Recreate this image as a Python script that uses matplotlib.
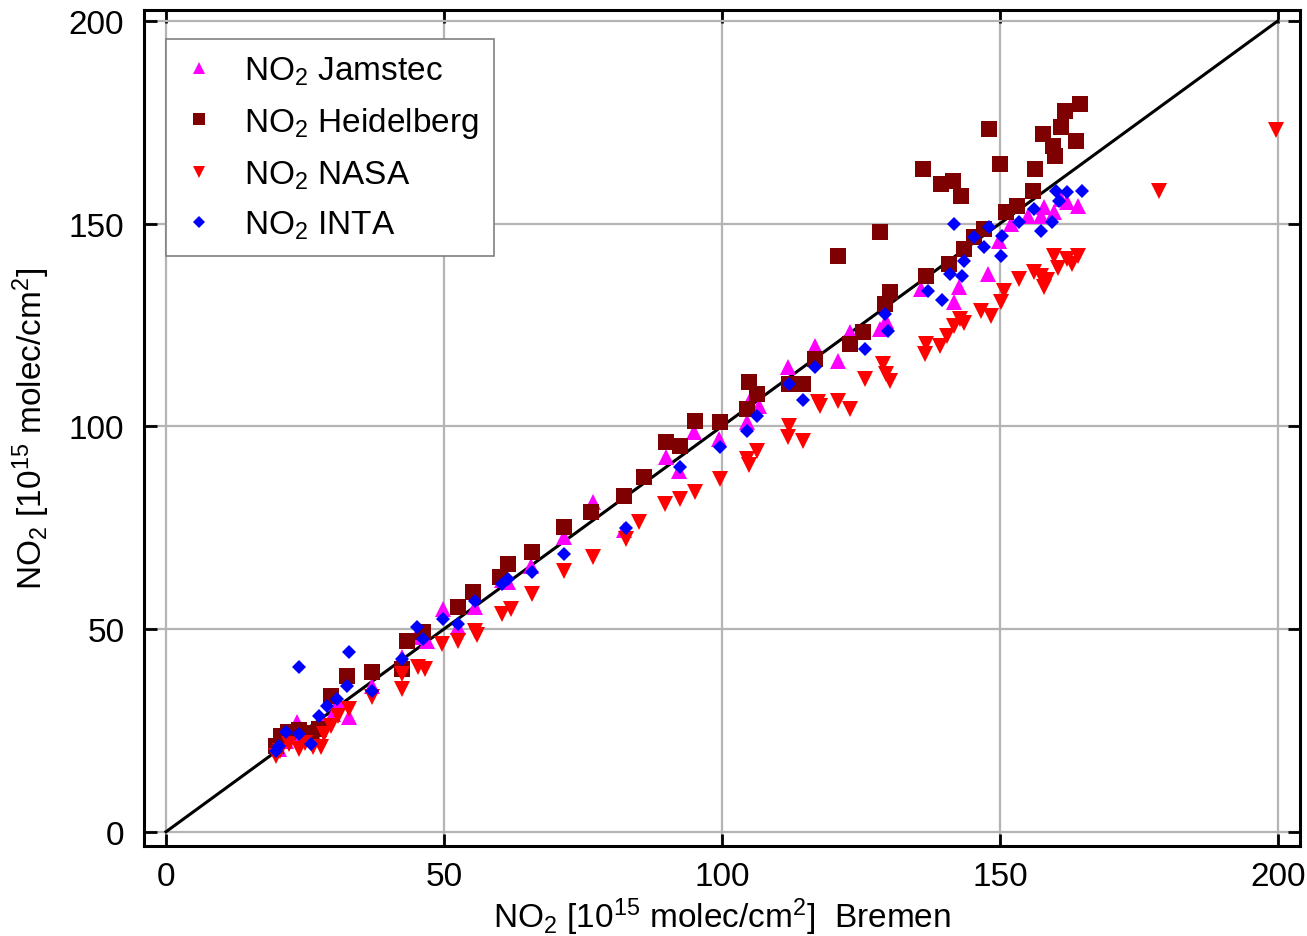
import numpy as np
import matplotlib
matplotlib.use("Agg")
import matplotlib.pyplot as plt

# NO2 columns, Bremen (x) vs other groups (y)
jam_x = [20.3, 21.6, 23.0, 23.6, 25.0, 26.5, 28.0, 30.0, 31.0, 33.0, 37.0, 42.4, 45.0, 47.0,
         49.8, 52.5, 55.6, 60.5, 61.6, 65.6, 71.6, 76.8, 82.4, 90.0, 92.2, 94.9, 99.5, 104.5,
         104.9, 106.7, 111.8, 116.8, 120.8, 123.0, 128.4, 129.5, 135.9, 141.7, 142.6, 147.8,
         149.8, 152.0, 155.0, 157.4, 158.0, 159.8, 161.0, 162.0, 164.0]
jam_y = [20.5, 22.5, 24.0, 27.1, 23.0, 24.5, 27.0, 29.0, 32.0, 28.4, 36.0, 43.0, 48.0, 47.0,
         55.0, 50.6, 55.5, 62.0, 61.7, 65.6, 72.7, 81.4, 74.5, 92.5, 89.0, 98.6, 96.9, 101.1,
         106.0, 105.0, 114.7, 119.8, 116.2, 123.3, 124.0, 126.0, 133.9, 130.7, 134.4, 137.6,
         145.7, 150.0, 152.0, 151.9, 154.0, 152.9, 156.0, 155.4, 154.4]

hei_x = [19.7, 20.6, 22.0, 24.0, 26.0, 27.5, 29.7, 32.6, 37.0, 42.4, 43.3, 46.2, 52.5, 55.3,
         60.1, 61.6, 65.9, 71.6, 76.4, 82.4, 85.9, 90.0, 92.4, 95.1, 99.6, 104.5, 104.9, 106.3,
         112.1, 114.5, 116.8, 120.9, 123.0, 125.4, 128.4, 129.3, 130.3, 136.2, 136.8, 139.4,
         140.8, 141.5, 143.0, 143.5, 145.3, 147.1, 148.0, 150.0, 151.1, 153.1, 155.9, 156.3,
         157.7, 159.5, 159.9, 161.0, 161.7, 163.7, 164.4]
hei_y = [21.2, 23.7, 24.5, 25.0, 24.3, 25.4, 33.5, 38.5, 39.5, 40.2, 47.0, 49.3, 55.5, 59.2,
         62.9, 66.1, 69.0, 75.2, 78.9, 82.9, 87.5, 96.2, 95.2, 101.4, 101.1, 104.3, 111.0, 108.0,
         110.5, 110.5, 116.6, 142.0, 120.3, 123.3, 148.0, 130.2, 133.2, 163.5, 137.1, 159.8,
         140.1, 160.5, 156.8, 143.8, 146.7, 148.7, 173.4, 164.7, 152.9, 154.4, 158.1, 163.5,
         172.0, 169.2, 166.7, 173.8, 177.8, 170.4, 179.5]

nasa_x = [19.7, 20.5, 22.1, 23.9, 25.0, 26.5, 27.9, 28.5, 29.7, 31.0, 33.0, 37.1, 42.4, 42.4,
          45.3, 46.6, 49.6, 52.5, 55.6, 56.0, 60.5, 62.0, 65.9, 71.6, 76.8, 82.8, 85.1, 89.7,
          92.4, 95.1, 99.6, 104.5, 104.9, 106.3, 111.8, 112.1, 114.5, 117.2, 117.6, 120.8, 123.0,
          125.7, 129.0, 129.5, 130.3, 136.6, 136.8, 139.3, 140.4, 141.7, 142.9, 143.5, 146.6,
          148.4, 150.2, 150.7, 153.4, 156.2, 157.4, 158.0, 158.5, 159.8, 160.5, 162.1, 163.0,
          164.0, 178.6, 199.6]
nasa_y = [18.7, 20.0, 21.7, 20.5, 22.0, 21.0, 21.0, 24.0, 26.1, 28.5, 30.3, 33.3, 35.3, 39.0,
          40.7, 40.2, 46.4, 47.1, 49.6, 48.5, 53.8, 55.0, 58.7, 64.4, 67.8, 72.3, 76.4, 80.9,
          82.1, 83.8, 87.0, 92.0, 90.5, 94.0, 97.4, 100.1, 96.4, 106.0, 105.0, 106.3, 104.3,
          111.7, 115.4, 113.0, 111.2, 117.9, 120.3, 119.8, 122.3, 124.8, 126.5, 125.5, 128.5,
          127.2, 130.7, 133.4, 136.4, 138.1, 137.1, 134.4, 136.0, 142.0, 139.0, 141.3, 140.0,
          142.0, 158.0, 173.0]

inta_x = [19.7, 20.3, 21.6, 23.9, 23.9, 26.1, 27.5, 29.0, 30.8, 32.6, 33.0, 37.1, 42.4, 45.1,
          46.2, 49.8, 52.5, 55.6, 60.5, 61.6, 65.9, 71.6, 82.8, 92.4, 99.6, 104.5, 106.3, 112.1,
          114.5, 116.8, 125.7, 129.3, 129.9, 137.1, 139.5, 141.1, 141.7, 143.1, 143.5, 145.3,
          147.1, 148.0, 150.2, 150.4, 153.4, 156.2, 157.4, 159.4, 160.1, 160.7, 162.0, 164.7]
inta_y = [20.0, 21.2, 24.7, 24.2, 40.7, 21.7, 28.6, 31.1, 32.8, 36.0, 44.4, 34.8, 42.7, 50.6,
          47.6, 52.5, 51.3, 57.0, 61.2, 62.4, 64.1, 68.6, 75.0, 90.0, 94.9, 98.9, 102.6, 110.5,
          106.5, 114.7, 119.1, 127.7, 123.6, 133.4, 131.2, 137.6, 149.9, 137.1, 140.8, 146.7,
          144.3, 149.2, 142.0, 147.0, 150.4, 153.6, 148.2, 150.4, 158.1, 155.6, 157.8, 158.1]

ticks = [0, 50, 100, 150, 200]

plt.rcParams["font.family"] = ["Liberation Sans", "DejaVu Sans"]
plt.rcParams["mathtext.default"] = "regular"

fig = plt.figure(figsize=(13.07, 9.37), dpi=100)
ax = fig.add_axes([0.110, 0.0961, 0.8847, 0.8922])

ax.grid(True, color="#b4b4b4", linewidth=1.6)
ax.set_axisbelow(True)

ax.plot([0, 200], [0, 200], color="black", linewidth=2.2, zorder=2)

ax.plot(jam_x, jam_y, linestyle="none", marker="^", ms=11, mew=0, color="#ff00ff",
        label="NO$_2$ Jamstec", zorder=3)
ax.plot(hei_x, hei_y, linestyle="none", marker="s", ms=11, mew=0, color="#7f0000",
        label="NO$_2$ Heidelberg", zorder=3)
ax.plot(nasa_x, nasa_y, linestyle="none", marker="v", ms=11, mew=0, color="#ff0000",
        label="NO$_2$ NASA", zorder=3)
ax.plot(inta_x, inta_y, linestyle="none", marker="D", ms=7.5, mew=0, color="#0000ff",
        label="NO$_2$ INTA", zorder=3)

ax.set_xlim(-4, 204)
ax.set_ylim(-3.5, 202.7)
ax.set_xticks(ticks)
ax.set_yticks(ticks)
ax.tick_params(direction="in", length=9, width=2, labelsize=24, top=True, right=True)
ax.tick_params(axis="x", pad=11)
ax.tick_params(axis="y", pad=14)
for s in ax.spines.values():
    s.set_linewidth(2.2)

ax.set_xlabel("NO$_2$ [10$^{15}$ molec/cm$^2$]  Bremen", fontsize=24, labelpad=2)
ax.set_ylabel("NO$_2$ [10$^{15}$ molec/cm$^2$]", fontsize=24, labelpad=12)

leg = ax.legend(loc="upper left", bbox_to_anchor=(0.019, 0.965), fontsize=24,
                markerscale=0.75, fancybox=False, framealpha=1, edgecolor="#808080",
                handlelength=1.1, handletextpad=0.8, borderpad=0.45, labelspacing=0.55,
                borderaxespad=0)
leg.get_frame().set_linewidth(1.2)

fig.savefig("out.png", dpi=100)
